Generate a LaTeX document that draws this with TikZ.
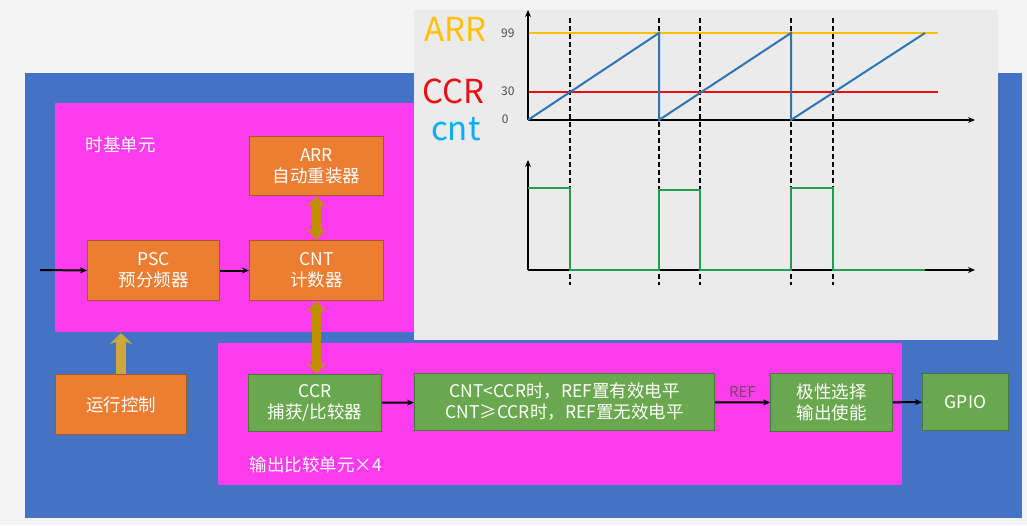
\documentclass[tikz,border=0pt]{standalone}
\usepackage{fontspec}
\setmainfont{Noto Sans CJK SC}
\usetikzlibrary{arrows.meta}
\definecolor{bgc}{HTML}{F4F4F4}
\definecolor{bluec}{HTML}{4472C4}
\definecolor{magc}{HTML}{FF3BEE}
\definecolor{panc}{HTML}{EBEBEB}
\definecolor{orc}{HTML}{ED7D31}
\definecolor{grc}{HTML}{6AA84F}
\definecolor{goldc}{HTML}{BF8F00}
\definecolor{khc}{HTML}{C9A93C}
\definecolor{yelc}{HTML}{FFC000}
\definecolor{redc}{HTML}{E81010}
\definecolor{cntc}{HTML}{00B0F0}
\definecolor{sawc}{HTML}{2E75B6}
\definecolor{pwmc}{HTML}{1FA050}
\begin{document}
\begin{tikzpicture}[x=1pt,y=-1pt,
  box/.style={draw=#1!70!black,line width=1pt,fill=#1,text=white,font=\fontsize{17.5}{21}\selectfont,align=center,inner sep=0pt,anchor=north west},
  arr/.style={-{Stealth[length=7pt,width=6pt]},line width=2pt,black},
  dbl/.style={{Stealth[length=11pt,width=20pt]}-{Stealth[length=11pt,width=20pt]},line width=9pt,goldc},
  dsh/.style={dash pattern=on 5pt off 3pt,line width=1.3pt,black},
  lab/.style={font=\fontsize{17.5}{21}\selectfont,text=white,anchor=west}]
\useasboundingbox (0,0) rectangle (1027,525);
\fill[bgc] (0,0) rectangle (1027,525);
\fill[bluec] (25,73) rectangle (1022,518);
\fill[magc] (55,103) rectangle (415,332);
\fill[panc] (414,10) rectangle (998,340);
\fill[magc] (218,343) rectangle (902,485);
\node[lab] (tb) at (82,145) {时基单元};
\node[lab] (oc) at (246,465) {输出比较单元×4};
% boxes
\node[box=orc,minimum width=134pt,minimum height=59pt] (arrb) at (249,136) {ARR\\自动重装器};
\node[box=orc,minimum width=132pt,minimum height=60pt] (psc) at (87,240) {PSC\\预分频器};
\node[box=orc,minimum width=134pt,minimum height=60pt] (cnt) at (249,240) {CNT\\计数器};
\node[box=orc,minimum width=131pt,minimum height=60pt] (run) at (55,374) {运行控制};
\node[box=grc,minimum width=133pt,minimum height=57pt] (ccr) at (248,374) {CCR\\捕获/比较器};
\node[box=grc,minimum width=300pt,minimum height=57pt] (cmp) at (414,373) {CNT<CCR时，REF置有效电平\\CNT≥CCR时，REF置无效电平};
\node[box=grc,minimum width=122pt,minimum height=58pt] (pol) at (770,373) {极性选择\\输出使能};
\node[box=grc,minimum width=86pt,minimum height=57pt] (gpio) at (922,373) {GPIO};
\coordinate (in) at (40,270);
\draw[arr] (in) -- (psc.west);
\draw[arr] (psc) -- (cnt);
\draw[arr] (ccr) -- (cmp);
\draw[arr] (cmp) -- node[above=1pt,text=black!60!magenta,font=\fontsize{15}{17}\selectfont]{REF} (pol);
\draw[arr] (pol) -- (gpio);
\draw[dbl] (arrb.south) -- (cnt.north);
\draw[dbl] (cnt.south) -- (ccr.north-|cnt.south);
\coordinate (tbb) at (121,333);
\draw[-{Stealth[length=11pt,width=22pt]},line width=10pt,khc] (run.north) -- (tbb);
% chart
\node[anchor=east,text=yelc,font=\fontsize{33}{35}\selectfont] (larr) at (490,29) {ARR};
\node[anchor=east,text=redc,font=\fontsize{33}{35}\selectfont] (lccr) at (488,91) {CCR};
\node[anchor=east,text=cntc,font=\fontsize{33}{35}\selectfont] (lcnt) at (484,129) {cnt};
\node[anchor=east,text=black!70,font=\fontsize{12}{13}\selectfont] (l99) at (518,33) {99};
\node[anchor=east,text=black!70,font=\fontsize{12}{13}\selectfont] (l30) at (518,91) {30};
\node[anchor=east,text=black!70,font=\fontsize{12}{13}\selectfont] (l0) at (512,119) {0};
\foreach \x in {570,659,700,791,833} \draw[dsh] (\x,18) -- (\x,285);
\draw[yelc,line width=2.5pt] (528,33) -- (938,33);
\draw[redc,line width=2pt] (528,92) -- (938,92);
\draw[-{Stealth[length=7pt,width=6pt]},line width=2pt] (528,120) -- (528,10);
\draw[-{Stealth[length=7pt,width=6pt]},line width=2pt] (528,120) -- (975,120);
\draw[sawc,line width=2pt] (528,120) -- (659,33) -- (659,120) -- (791,33) -- (791,120) -- (925,33);
\draw[-{Stealth[length=7pt,width=6pt]},line width=2pt] (528,270) -- (528,160);
\draw[-{Stealth[length=7pt,width=6pt]},line width=2pt] (528,270) -- (975,270);
\draw[pwmc,line width=2.2pt] (528,188) -- (570,188) -- (570,270) -- (659,270) -- (659,190) -- (700,190) -- (700,270) -- (791,270) -- (791,188) -- (833,188) -- (833,270) -- (925,270);
\end{tikzpicture}
\end{document}
